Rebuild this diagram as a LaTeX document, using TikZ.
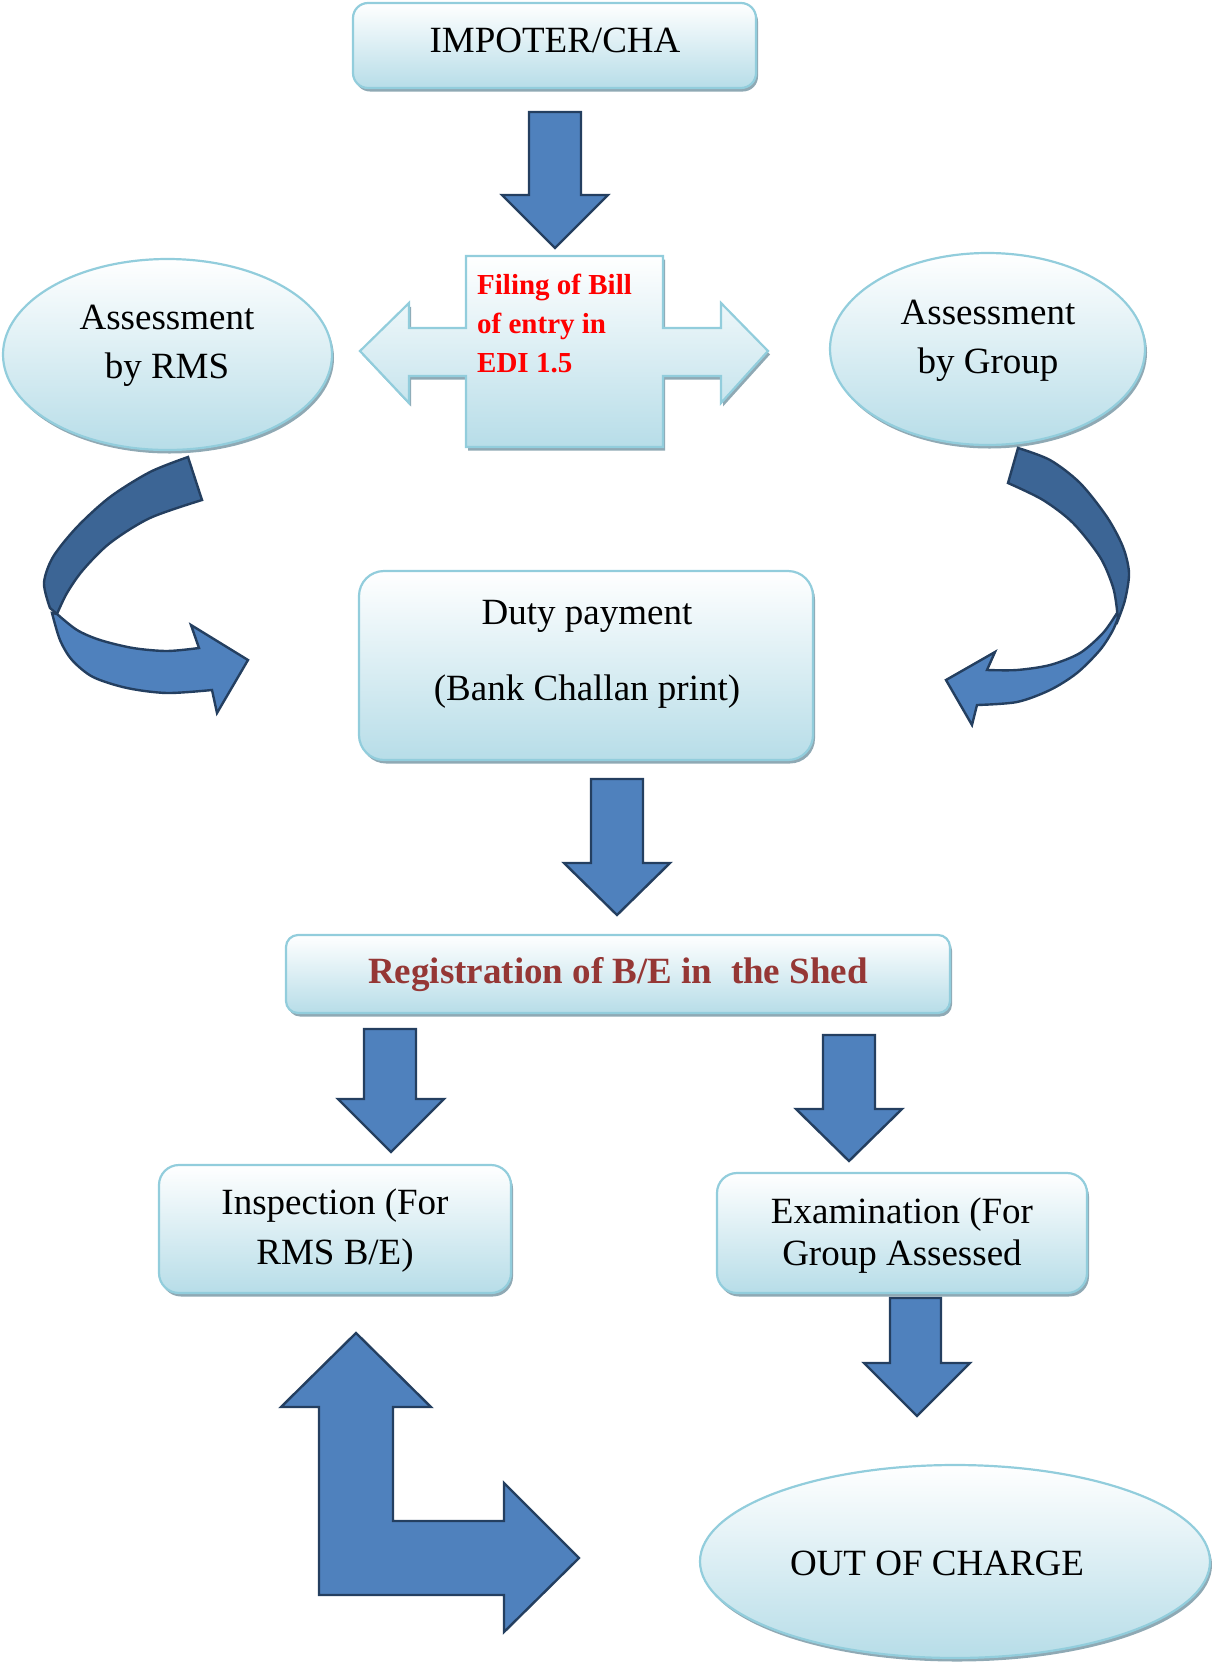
\documentclass[tikz,border=0pt]{standalone}
\usepackage{fontspec}
\setmainfont{Liberation Serif}
\usetikzlibrary{shadows,shapes.geometric}
\definecolor{fillb}{HTML}{B7DDE8}
\definecolor{bordc}{HTML}{92CDDC}
\definecolor{shadc}{HTML}{8FA9B4}
\definecolor{arrf}{HTML}{4F81BD}
\definecolor{arrd}{HTML}{3C6595}
\definecolor{arrb}{HTML}{243F60}
\definecolor{regc}{HTML}{953735}
\begin{document}
\begin{tikzpicture}[x=1pt,y=-1pt,
 box/.style={draw=bordc, line width=2.2pt, top color=white, bottom color=fillb,
   drop shadow={shadow xshift=2pt, shadow yshift=-3.5pt, fill=shadc, opacity=1}},
 rbox/.style={box, rectangle, rounded corners=#1, inner sep=0pt},
 ebox/.style={box, ellipse, inner sep=0pt},
 txt/.style={font=\fontsize{37}{44}\selectfont, inner sep=0pt, anchor=base},
 ftxt/.style={font=\fontsize{29}{39}\selectfont\bfseries, text=red, inner sep=0pt, anchor=base west},
 blk/.style={draw=arrb, line width=2.4pt, fill=arrf, line join=miter},
 blkd/.style={blk, fill=arrd}]
\useasboundingbox (0,0) rectangle (1212,1666);

% ---------- boxes ----------
\node[rbox=15pt, minimum width=403pt, minimum height=85pt] (imp) at (554.5,45.5) {};
\node[txt] (imptxt) at (555,52) {IMPOTER/CHA};

\path[box] (466,256) -- (663,256) -- (663,328) -- (721,328) -- (721,303) -- (768,351)
  -- (721,403) -- (721,376) -- (663,376) -- (663,447) -- (466,447) -- (466,376)
  -- (409,376) -- (409,403) -- (360,351) -- (409,303) -- (409,328) -- (466,328) -- cycle;
\coordinate (fil) at (564.5,351.5);
\node[ftxt] (fil1) at (477,294) {Filing of Bill};
\node[ftxt] (fil2) at (477,333) {of entry in};
\node[ftxt] (fil3) at (477,372) {EDI 1.5};

\node[ebox, minimum width=329pt, minimum height=191pt] (rms) at (167.5,354.5) {};
\node[txt] (rms1) at (167,329) {Assessment};
\node[txt] (rms2) at (167,378) {by RMS};

\node[ebox, minimum width=315pt, minimum height=192pt] (grp) at (987.5,349) {};
\node[txt] (grp1) at (988,324) {Assessment};
\node[txt] (grp2) at (988,373) {by Group};

\node[rbox=25pt, minimum width=454pt, minimum height=189pt] (duty) at (586,665.5) {};
\node[txt] (duty1) at (587,624) {Duty payment};
\node[txt] (duty2) at (587,700) {(Bank Challan print)};

\node[rbox=12pt, minimum width=664pt, minimum height=78pt] (reg) at (618,974) {};
\node[txt, font=\fontsize{37}{44}\selectfont\bfseries, text=regc] (regtxt) at (618,983) {Registration of B/E in\ \ the Shed};

\node[rbox=20pt, minimum width=352pt, minimum height=128pt] (insp) at (335,1229) {};
\node[txt] (insp1) at (335,1214) {Inspection (For};
\node[txt] (insp2) at (335,1264) {RMS B/E)};

\node[rbox=20pt, minimum width=370pt, minimum height=120pt] (exam) at (902,1233) {};
\node[txt] (exam1) at (902,1223) {Examination (For};
\node[txt] (exam2) at (902,1265) {Group Assessed};

\node[ebox, minimum width=510pt, minimum height=193pt] (ooc) at (955,1561.5) {};
\node[txt] (ooctxt) at (937,1575) {OUT OF CHARGE};

% ---------- straight block arrows ----------
\draw[blk] (529,112) -- (581,112) -- (581,195) -- (608,195) -- (555,248) -- (502,195) -- (529,195) -- cycle;
\draw[blk] (591,779) -- (643,779) -- (643,863) -- (670,863) -- (617,915) -- (564,863) -- (591,863) -- cycle;
\draw[blk] (364,1029) -- (416,1029) -- (416,1099) -- (444,1099) -- (391,1152) -- (338,1099) -- (364,1099) -- cycle;
\draw[blk] (823,1035) -- (875,1035) -- (875,1109) -- (902,1109) -- (849,1161) -- (796,1109) -- (823,1109) -- cycle;
\draw[blk] (890,1298) -- (941,1298) -- (941,1363) -- (970,1363) -- (917,1416) -- (864,1363) -- (890,1363) -- cycle;

% ---------- bent arrow ----------
\draw[blk] (356,1333) -- (431,1407) -- (393,1407) -- (393,1521) -- (504,1521) -- (504,1483)
  -- (579,1558) -- (504,1632) -- (504,1595) -- (319,1595) -- (319,1407) -- (281,1407) -- cycle;

% ---------- left curved arrow ----------
\draw[blkd] plot[smooth] coordinates {(188,457) (150,472) (110,497) (77,527) (53,557) (44,583) (50,608)}
  -- plot[smooth] coordinates {(57,614) (67,593) (83,570) (110,543) (150,518) (202,500)} -- cycle;
\draw[blk] plot[smooth] coordinates {(52,613) (60,640) (72,660) (93,677) (127,688) (167,693) (212,690)}
  -- (217,713) -- (248,660) -- (191,625) -- (199,648)
  -- plot[smooth] coordinates {(199,648) (167,651) (133,648) (100,640) (77,630) (57,614)} -- cycle;

% ---------- right curved arrow ----------
\draw[blk] plot[smooth] coordinates {(1120,612) (1113,630) (1100,650) (1077,673) (1050,690) (1017,702) (977,705)}
  -- (972,725) -- (946,680) -- (995,652) -- (987,670)
  -- plot[smooth] coordinates {(987,670) (1017,670) (1050,665) (1080,653) (1103,633) (1117,613)} -- cycle;
\draw[blkd] plot[smooth] coordinates {(1018,448) (1050,460) (1080,483) (1107,517) (1123,547) (1129,573) (1125,600) (1118,620)}
  -- plot[smooth] coordinates {(1117,610) (1113,587) (1100,557) (1073,523) (1043,500) (1008,483)} -- cycle;
\end{tikzpicture}
\end{document}
